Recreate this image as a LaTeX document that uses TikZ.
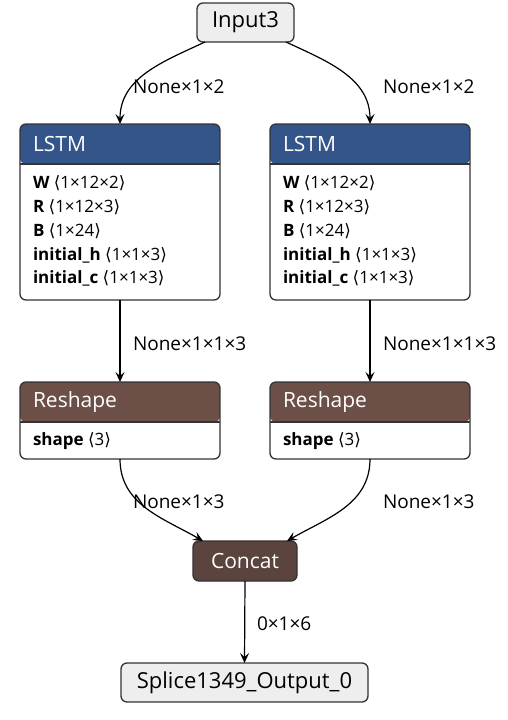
\documentclass[tikz,border=0pt]{standalone}
\usepackage{fontspec}
\setmainfont{Open Sans}
\newfontfamily\brfont{DejaVu Sans}
\usetikzlibrary{arrows.meta}
\definecolor{layerblue}{RGB}{51,85,138}
\definecolor{shapebrown}{RGB}{108,79,71}
\definecolor{tensorbrown}{RGB}{90,68,61}
\definecolor{ioface}{RGB}{238,238,238}
\definecolor{edgegray}{RGB}{51,51,51}
\newcommand{\dims}[1]{{\brfont\char"27E8}#1{\brfont\char"27E9}}
\begin{document}
\begin{tikzpicture}[x=1pt, y=-1pt,
    every node/.style={inner sep=0pt, outer sep=0pt},
    iobox/.style={draw=edgegray, line width=1.3pt, fill=ioface, rounded corners=6pt,
        minimum height=39pt, font=\fontsize{22}{24}\selectfont},
    opbox/.style={draw=edgegray, line width=1.3pt, fill=white, rounded corners=6pt,
        anchor=north west, minimum width=200pt,
        path picture={\fill[#1] (path picture bounding box.north west) rectangle
            ([yshift=-40pt]path picture bounding box.north east);
          \draw[edgegray, line width=1.3pt] ([yshift=-40pt]path picture bounding box.north west) --
            ([yshift=-40pt]path picture bounding box.north east);}},
    head/.style={font=\fontsize{21}{22}\selectfont, text=white, anchor=west},
    attrs/.style={font=\fontsize{17}{23.7}\selectfont, align=left, anchor=north west},
    lbl/.style={font=\fontsize{19}{20}\selectfont, anchor=west},
    edge/.style={draw=black, line width=1.2pt, -{Stealth[length=10pt, width=9pt, inset=4pt]}}]
    \useasboundingbox (0,0) rectangle (507,720) ;

    % input and output
    \node[iobox, minimum width=97pt] (input3) at (245.5,22.5) {Input3} ;
    \node[iobox, minimum width=247pt] (splice) at (244.5,682.5) {Splice1349\_Output\_0} ;

    % lstm layers
    \node[opbox=layerblue, minimum height=176pt] (lstmL) at (20,124) {} ;
    \node[head] (lstmLhead) at ([xshift=13pt, yshift=-20pt]lstmL.north west) {LSTM} ;
    \node[attrs] (lstmLattr) at ([xshift=13pt, yshift=-52pt]lstmL.north west)
        {\textbf{W} \dims{1×12×2}\\ \textbf{R} \dims{1×12×3}\\ \textbf{B} \dims{1×24}\\
         \textbf{initial\_h} \dims{1×1×3}\\ \textbf{initial\_c} \dims{1×1×3}} ;
    \node[opbox=layerblue, minimum height=176pt] (lstmR) at (270,124) {} ;
    \node[head] (lstmRhead) at ([xshift=13pt, yshift=-20pt]lstmR.north west) {LSTM} ;
    \node[attrs] (lstmRattr) at ([xshift=13pt, yshift=-52pt]lstmR.north west)
        {\textbf{W} \dims{1×12×2}\\ \textbf{R} \dims{1×12×3}\\ \textbf{B} \dims{1×24}\\
         \textbf{initial\_h} \dims{1×1×3}\\ \textbf{initial\_c} \dims{1×1×3}} ;

    % reshapes
    \node[opbox=shapebrown, minimum height=77pt] (reshL) at (20,382) {} ;
    \node[head] (reshLhead) at ([xshift=13pt, yshift=-20pt]reshL.north west) {Reshape} ;
    \node[attrs] (reshLattr) at ([xshift=13pt, yshift=-51pt]reshL.north west) {\textbf{shape} \dims{3}} ;
    \node[opbox=shapebrown, minimum height=77pt] (reshR) at (270,382) {} ;
    \node[head] (reshRhead) at ([xshift=13pt, yshift=-20pt]reshR.north west) {Reshape} ;
    \node[attrs] (reshRattr) at ([xshift=13pt, yshift=-51pt]reshR.north west) {\textbf{shape} \dims{3}} ;

    % concat
    \node[draw=edgegray, line width=1.3pt, fill=tensorbrown, rounded corners=6pt,
        minimum width=104pt, minimum height=40pt, text=white,
        font=\fontsize{21}{22}\selectfont] (concat) at (245,561) {Concat} ;

    % edges
    \draw[edge] ([xshift=8pt]input3.south west) to[out=-155, in=90] (lstmL.north) ;
    \draw[edge] ([xshift=-8pt]input3.south east) to[out=-25, in=90] (lstmR.north) ;
    \draw[edge] (lstmL.south) -- (reshL.north) ;
    \draw[edge] (lstmR.south) -- (reshR.north) ;
    \draw[edge] (reshL.south) to[out=-90, in=150] ([xshift=10pt]concat.north west) ;
    \draw[edge] (reshR.south) to[out=-90, in=30] ([xshift=-10pt]concat.north east) ;
    \draw[edge] (concat.south) -- (splice.north) ;

    % edge labels
    \node[lbl] (tL1) at (133,87) {None×1×2} ;
    \node[lbl] (tR1) at (383,87) {None×1×2} ;
    \node[lbl] (tL2) at (133,344) {None×1×1×3} ;
    \node[lbl] (tR2) at (383,344) {None×1×1×3} ;
    \node[lbl] (tL3) at (133,502) {None×1×3} ;
    \node[lbl] (tR3) at (383,502) {None×1×3} ;
    \node[lbl] (tC) at (257,624) {0×1×6} ;
\end{tikzpicture}
\end{document}
